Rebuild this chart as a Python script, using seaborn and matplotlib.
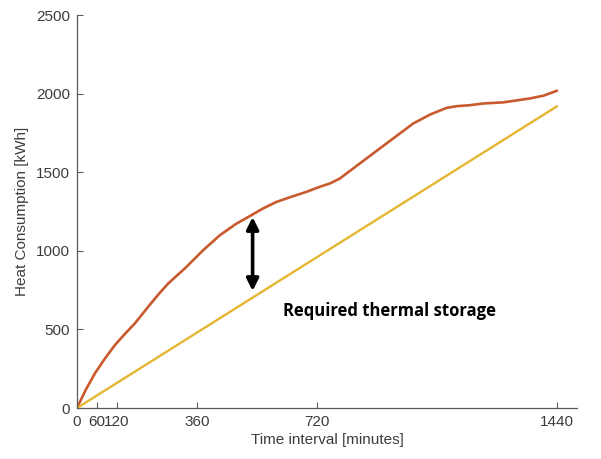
import matplotlib
matplotlib.use("Agg")
import matplotlib.pyplot as plt
import seaborn as sns
import pandas as pd

# Data
demand_time = [0, 27, 54, 84, 114, 144, 174, 214, 244, 274, 324, 379, 429, 476, 524,
               560, 599, 640, 689, 729, 760, 789, 849, 929, 1009, 1060, 1109,
               1140, 1179, 1219, 1279, 1359, 1400, 1440]
demand_heat = [0, 118, 221, 315, 401, 472, 539, 645, 722, 793, 889, 1005, 1100, 1170, 1228,
               1272, 1312, 1342, 1376, 1408, 1430, 1461, 1557, 1684, 1811, 1868, 1910,
               1921, 1927, 1938, 1945, 1970, 1988, 2019]
supply_time = [0, 1440]
supply_heat = [0, 1920]
x_ticks = [0, 60, 120, 360, 720, 1440]
y_ticks = [0, 500, 1000, 1500, 2000, 2500]

sns.set_style("white")
plt.rcParams['font.family'] = ['Liberation Sans', 'DejaVu Sans']

df_d = pd.DataFrame({"t": demand_time, "h": demand_heat})
df_s = pd.DataFrame({"t": supply_time, "h": supply_heat})

fig = plt.figure(figsize=(6.01, 4.59), dpi=100)
ax = fig.add_axes([0.128, 0.111, 0.832, 0.856])

sns.lineplot(data=df_d, x="t", y="h", ax=ax, color="#C95A2E", lw=1.9)
sns.lineplot(data=df_s, x="t", y="h", ax=ax, color="#E5B631", lw=1.7)

ax.set_xlim(0, 1500)
ax.set_ylim(0, 2500)
ax.set_xticks(x_ticks)
ax.set_yticks(y_ticks)
ax.set_xticklabels([str(v) for v in x_ticks])
ax.set_yticklabels([str(v) for v in y_ticks])

for s in ["top", "right"]:
    ax.spines[s].set_visible(False)
for s in ["left", "bottom"]:
    ax.spines[s].set_color("#5a5a5a")
    ax.spines[s].set_linewidth(0.9)

ax.tick_params(direction="in", length=4, width=0.8, color="#5a5a5a",
               labelsize=11, labelcolor="#3c3c3c", pad=5)
ax.tick_params(axis="both", which="both", bottom=True, left=True)

ax.set_xlabel("Time interval [minutes]", fontsize=11, color="#3c3c3c", labelpad=3)
ax.set_ylabel("Heat Consumption [kWh]", fontsize=11, color="#3c3c3c", labelpad=5)

ax.annotate("", xy=(527, 1215), xytext=(527, 745),
            arrowprops=dict(arrowstyle="<|-|>", color="black", lw=2.6,
                            mutation_scale=18, shrinkA=0, shrinkB=0))
ax.text(618, 617, "Required thermal storage", fontsize=12, fontweight="bold",
        family=["Open Sans", "DejaVu Sans"], color="black", va="center", ha="left")

fig.savefig("out.png", dpi=100)
